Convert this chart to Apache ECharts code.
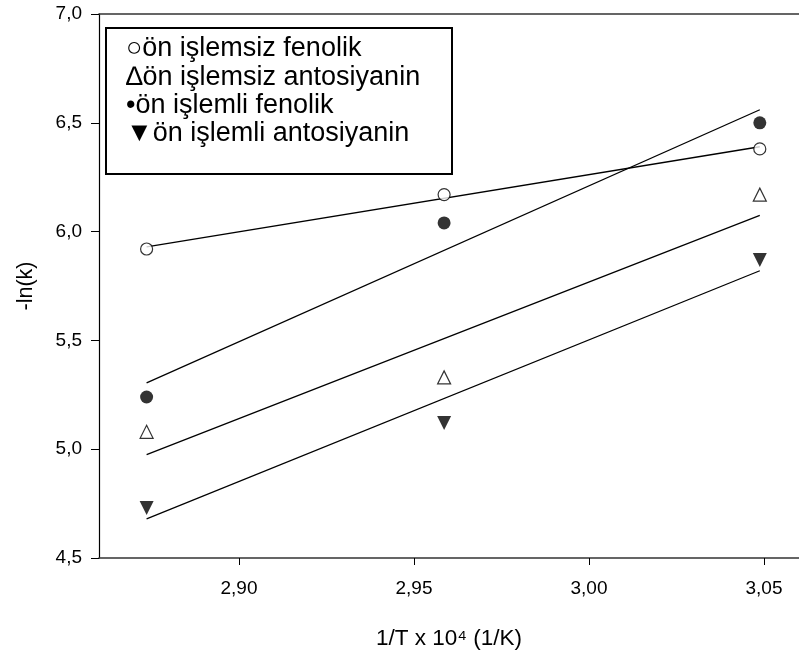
<!DOCTYPE html>
<html><head><meta charset="utf-8">
<script src="https://cdn.jsdelivr.net/npm/echarts@6/dist/echarts.min.js"></script>
<style>html,body{margin:0;padding:0;background:#fff}#c{width:799px;height:657px}</style>
</head><body><div id="c"></div>
<script>
// Data
const xValues = [2.8736, 2.9586, 3.0488];
const openFenolik = [5.92, 6.17, 6.38];
const openAntosiyanin = [5.08, 5.33, 6.17];
const filledFenolik = [5.24, 6.04, 6.50];
const filledAntosiyanin = [4.73, 5.12, 5.87];
const fitX = [2.8736, 3.0488];
const fitOpenFenolik = [5.93, 6.39];
const fitOpenAntosiyanin = [4.975, 6.075];
const fitFilledFenolik = [5.305, 6.56];
const fitFilledAntosiyanin = [4.68, 5.82];
const xTicks = [2.90, 2.95, 3.00, 3.05];
const yTicks = [4.5, 5.0, 5.5, 6.0, 6.5, 7.0];
const legendLabels = ['○ön işlemsiz fenolik', '∆ön işlemsiz antosiyanin', '•ön işlemli fenolik', '▼ön işlemli antosiyanin'];
const xTitle = '1/T x 10⁴ (1/K)';
const yTitle = '-ln(k)';

const FONT = 'Liberation Sans, Arial, sans-serif';
const pts = ys => xValues.map((x, i) => [x, ys[i]]);
const fit = ys => fitX.map((x, i) => [x, ys[i]]);
const fmt = v => v.toFixed(2).replace('.', ',');

const chart = echarts.init(document.getElementById('c'), null, {renderer: 'canvas'});
const lineSeries = ys => ({
  type: 'line', data: fit(ys), symbol: 'none', silent: true, z: 2,
  lineStyle: {color: '#000', width: 1.3}
});
chart.setOption({
  animation: false,
  backgroundColor: '#fff',
  grid: {left: 99, top: 14, width: 708, height: 544},
  xAxis: [{
    type: 'value', min: 2.86, max: 3.06,
    name: xTitle, nameLocation: 'middle', nameGap: 69,
    nameTextStyle: {fontFamily: FONT, fontSize: 22.5, color: '#000'},
    axisLine: {show: true, lineStyle: {color: '#333', width: 1.6}},
    axisTick: {show: true, length: 7, customValues: xTicks, lineStyle: {color: '#000', width: 1}},
    axisLabel: {customValues: xTicks, formatter: fmt, margin: 21, fontFamily: FONT, fontSize: 19, color: '#000'},
    splitLine: {show: false}
  }, {
    type: 'value', position: 'top', min: 2.86, max: 3.06,
    axisLine: {show: true, lineStyle: {color: '#333', width: 1.6}},
    axisTick: {show: false}, axisLabel: {show: false}, splitLine: {show: false}
  }],
  yAxis: {
    type: 'value', min: 4.5, max: 7.0, interval: 0.5,
    name: yTitle, nameLocation: 'middle', nameGap: 62, nameRotate: 90,
    nameTextStyle: {fontFamily: FONT, fontSize: 21.5, color: '#000'},
    axisLine: {show: true, lineStyle: {color: '#000', width: 1.2}},
    axisTick: {show: true, length: 8, lineStyle: {color: '#000', width: 1}},
    axisLabel: {formatter: v => v.toFixed(1).replace('.', ','), margin: 17, fontFamily: FONT, fontSize: 19, color: '#000'},
    splitLine: {show: false}
  },
  series: [
    lineSeries(fitOpenFenolik),
    lineSeries(fitFilledFenolik),
    lineSeries(fitOpenAntosiyanin),
    lineSeries(fitFilledAntosiyanin),
    {type: 'scatter', data: pts(openFenolik), symbol: 'circle', symbolSize: 12, z: 3,
     itemStyle: {color: '#fff', borderColor: '#000', borderWidth: 1.2}},
    {type: 'scatter', data: pts(openAntosiyanin), symbol: 'triangle', symbolSize: 13, z: 3,
     itemStyle: {color: '#fff', borderColor: '#000', borderWidth: 1.2}},
    {type: 'scatter', data: pts(filledFenolik), symbol: 'circle', symbolSize: 13, z: 3,
     itemStyle: {color: '#000'}},
    {type: 'scatter', data: pts(filledAntosiyanin), symbol: 'triangle', symbolRotate: 180, symbolSize: 14, z: 3,
     itemStyle: {color: '#000'}}
  ],
  graphic: [
    {type: 'rect', left: 105, top: 27, z: 10,
     shape: {width: 346, height: 146},
     style: {fill: '#fff', stroke: '#000', lineWidth: 2}},
    ...legendLabels.map((t, i) => ({
      type: 'text', left: 126, top: 35.5 + i * 28.3, z: 11,
      style: {text: t, fontFamily: FONT, fontSize: 27, fill: '#000'}
    }))
  ]
});
</script></body></html>
